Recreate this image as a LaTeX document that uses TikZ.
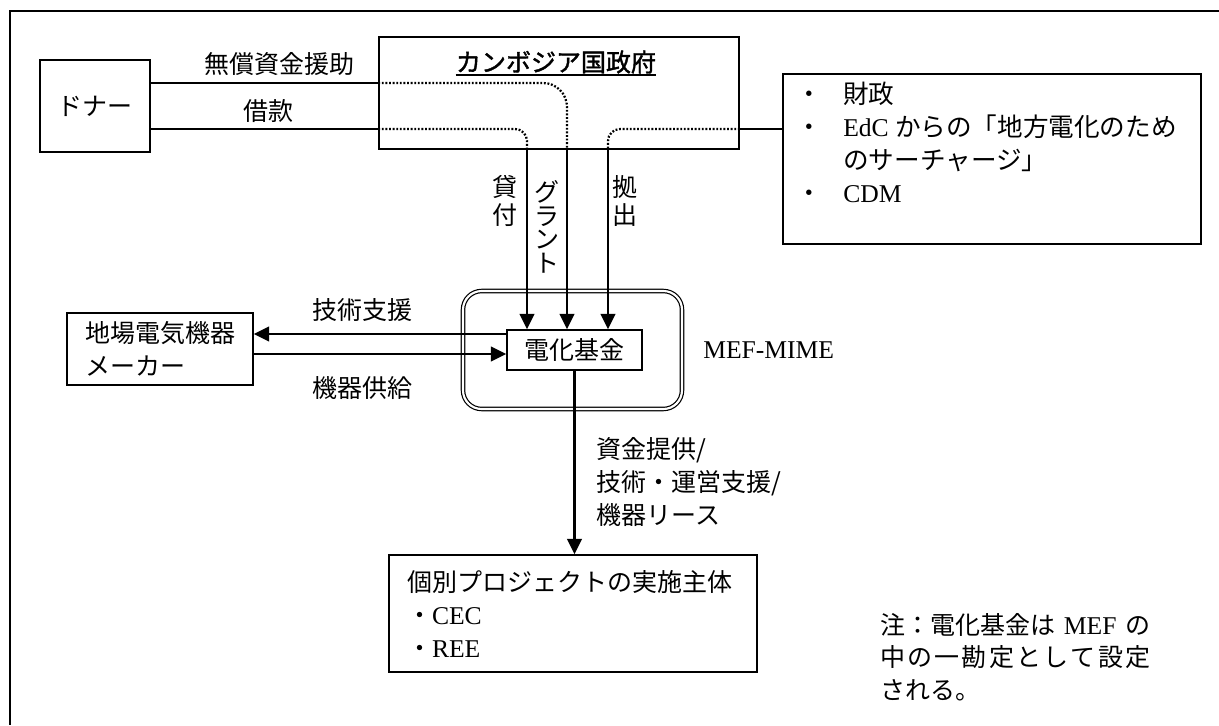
\documentclass[tikz,border=0pt]{standalone}
\usepackage{fontspec}
\setmainfont{Liberation Serif}
\newfontfamily\jp{Noto Sans CJK JP}
\newfontfamily\jpb{Noto Sans CJK JP}[FakeBold=1.5]
\usetikzlibrary{arrows.meta}
\def\upx{0.75pt}
\setlength{\lineskiplimit}{-100pt}
\begin{document}
\begin{tikzpicture}[x=0.75pt,y=-0.75pt,
  every node/.style={inner sep=0pt, font=\fontsize{19.2}{24.75}\selectfont},
  box/.style={draw, line width=1.1pt},
  conn/.style={line width=1.6pt},
  arr/.style={line width=1.6pt, -{Triangle[length=11.5pt,width=11pt]}},
  dots/.style={line width=1.7pt, dash pattern=on 1.4pt off 1.3pt},
  lbl/.style={font=\jp\fontsize{18.75}{24.75}\selectfont},
  vstackA/.style={align=center, font=\jp\fontsize{18.75}{21}\selectfont},
  vstackB/.style={align=center, font=\jp\fontsize{18.75}{17.8}\selectfont}
]
\useasboundingbox (0,0) rectangle (1219,725);
\draw[line width=2.2pt] (1219,11) -- (10,11) -- (10,725);

% nodes
\node[box, minimum width=110*\upx, minimum height=92*\upx, lbl] (donor) at (95,106) {ドナー};
\node[box, minimum width=360*\upx, minimum height=112*\upx] (gov) at (559,93) {};
\node[font=\jpb\fontsize{18.75}{24.75}\selectfont] (govt) at (556,62) {カンボジア国政府};
\draw[line width=1.4pt] ([yshift=-1pt]govt.south west) -- ([yshift=-1pt]govt.south east);

\node[box, minimum width=418*\upx, minimum height=170*\upx] (src) at (992,159) {};
\node[anchor=north west, align=left] (srctxt) at (796,82) {%
\makebox[35.25pt][l]{\jp ・}{\jp 財政}\\
\makebox[35.25pt][l]{\jp ・}EdC {\jp からの「地方電化のため}\\
\hspace*{35.25pt}{\jp のサーチャージ」}\\
\makebox[35.25pt][l]{\jp ・}CDM};

\node[lbl] (grantaid) at (279,64) {無償資金援助};
\node[lbl] (loan) at (268,111) {借款};

\node[vstackA] (lend) at (505,201) {貸\\付};
\node[vstackB] (grant) at (547,227) {グ\\ラ\\ン\\ト};
\node[vstackA] (contrib) at (625,201) {拠\\出};

\node[draw, double, double distance=1.6pt, line width=0.9pt, rounded corners=14pt,
      minimum width=219*\upx, minimum height=118*\upx] (mef) at (572.5,350) {};
\node[box, minimum width=135*\upx, minimum height=40*\upx, lbl] (fund) at (574.5,350) {電化基金};
\node[anchor=west] (meflbl) at (703,350) {MEF-MIME};

\node[box, minimum width=186*\upx, minimum height=72*\upx, lbl, align=left] (maker) at (160,349) {地場電気機器\\メーカー};
\node[lbl] (tech) at (362,310) {技術支援};
\node[lbl] (equip) at (362,388) {機器供給};

\node[lbl, anchor=north west, align=left] (provide) at (596,437) {資金提供/\\技術・運営支援/\\機器リース};

\node[box, minimum width=368*\upx, minimum height=117*\upx, text width=332*\upx,
      inner xsep=18*\upx, align=left, lbl] (proj) at (573,613.5)
  {個別プロジェクトの実施主体\\・{\rmfamily\fontsize{19.2}{24.75}\selectfont CEC}\\・{\rmfamily\fontsize{19.2}{24.75}\selectfont REE}};

\node[lbl, anchor=base west] (note1) at (880,634) {\makebox[202.5pt][s]{注：電化基金は {\rmfamily\fontsize{19.2}{24.75}\selectfont MEF} の}};
\node[lbl, anchor=base west] (note2) at (880,666) {\makebox[202.5pt][s]{中\hfil の\hfil 一\hfil 勘\hfil 定\hfil と\hfil し\hfil て\hfil 設\hfil 定}};
\node[lbl, anchor=base west] (note3) at (880,699) {される。};

% connectors
\draw[conn] (donor.east |- 0,83) -- (gov.west |- 0,83);
\draw[dots, rounded corners=18pt] (gov.west |- 0,83) -- (567,83) -- (gov.south -| 567,0);
\draw[arr] (gov.south -| 567,0) -- (fund.north -| 567,0);

\draw[conn] (donor.east |- 0,129) -- (gov.west |- 0,129);
\draw[dots, rounded corners=9pt] (gov.west |- 0,129) -- (527,129) -- (gov.south -| 527,0);
\draw[arr] (gov.south -| 527,0) -- (fund.north -| 527,0);

\draw[dots, rounded corners=9pt] (gov.east |- 0,129) -- (608,129) -- (gov.south -| 608,0);
\draw[arr] (gov.south -| 608,0) -- (fund.north -| 608,0);
\draw[conn] (gov.east |- 0,129) -- (src.west |- 0,129);

\draw[arr] (fund.west |- 0,334) -- (maker.east |- 0,334);
\draw[arr] (maker.east |- 0,354) -- (fund.west |- 0,354);

\draw[arr] (fund.south) -- (fund.south |- proj.north);
\end{tikzpicture}
\end{document}
